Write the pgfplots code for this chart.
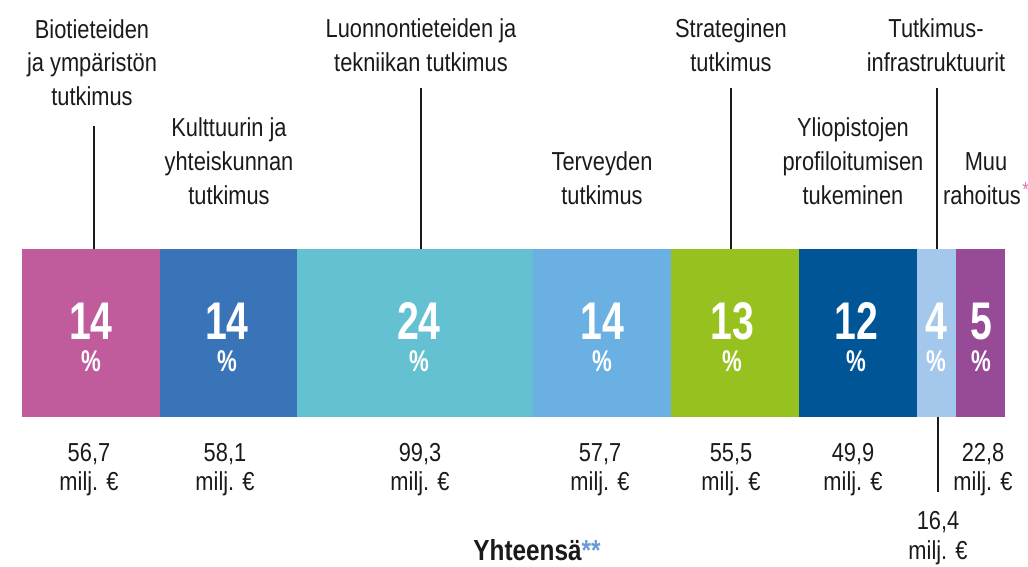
\documentclass[border=0pt]{standalone}
\usepackage{pgfplots}
\pgfplotsset{compat=1.18}
\usepackage{fontspec}
\setmainfont{Liberation Sans}[FakeStretch=0.84]
\newfontfamily\pctfont{Liberation Sans}[FakeStretch=0.74]
\definecolor{cBio}{HTML}{C05C9C}
\definecolor{cKult}{HTML}{3A74B8}
\definecolor{cLuon}{HTML}{63C1D2}
\definecolor{cTerv}{HTML}{6BB0E2}
\definecolor{cStra}{HTML}{97C11F}
\definecolor{cYlio}{HTML}{005596}
\definecolor{cInfr}{HTML}{A3C8EC}
\definecolor{cMuu}{HTML}{974B97}
\definecolor{astblue}{HTML}{6A9BD8}
\definecolor{astpink}{HTML}{E070B0}
\definecolor{txt}{HTML}{1A1A1A}
\tikzset{pn/.style={anchor=base, inner sep=0pt, text=white, font=\pctfont\bfseries\fontsize{53}{53}\selectfont},
  pp/.style={anchor=base, inner sep=0pt, text=white, font=\pctfont\bfseries\fontsize{30}{30}\selectfont},
  lab/.style={anchor=base, inner sep=0pt, text=txt, font=\fontsize{26}{26}\selectfont}}
\begin{document}
\begin{tikzpicture}[x=1pt,y=1pt]
\path[use as bounding box] (0,0) rectangle (1028,567);
\begin{axis}[at={(22pt,150pt)}, anchor=south west, scale only axis,
  width=983pt, height=168pt, xmin=0, xmax=100, ymin=-0.5, ymax=0.5,
  enlargelimits=false, xbar stacked, bar width=168pt, axis lines=none,
  ticks=none, clip=false]
\addplot[fill=cBio, draw=none] coordinates {(14,0)};
\addplot[fill=cKult, draw=none] coordinates {(14,0)};
\addplot[fill=cLuon, draw=none] coordinates {(24,0)};
\addplot[fill=cTerv, draw=none] coordinates {(14,0)};
\addplot[fill=cStra, draw=none] coordinates {(13,0)};
\addplot[fill=cYlio, draw=none] coordinates {(12,0)};
\addplot[fill=cInfr, draw=none] coordinates {(4,0)};
\addplot[fill=cMuu, draw=none] coordinates {(5,0)};
\end{axis}
% percentage labels
\foreach \x/\p in {91/14,227/14,419/24,602/14,732/13,856/12,936/4,981/5}{
  \node[pn] at (\x,227) {\p};
  \node[pp] at (\x,195) {\%};
}
% leader lines
\draw[line width=1.1pt, txt] (94,441) -- (94,318);
\draw[line width=1.1pt, txt] (421,479) -- (421,318);
\draw[line width=1.1pt, txt] (731,479) -- (731,318);
\draw[line width=1.1pt, txt] (937,479) -- (937,318);
\draw[line width=1.1pt, txt] (938,150) -- (938,75);
% category labels
\node[lab] at (92,528) {Biotieteiden};
\node[lab] at (92,495) {ja ympäristön};
\node[lab] at (92,461) {tutkimus};
\node[lab] at (229,430) {Kulttuurin ja};
\node[lab] at (229,396) {yhteiskunnan};
\node[lab] at (229,362) {tutkimus};
\node[lab] at (421,529) {Luonnontieteiden ja};
\node[lab] at (421,495) {tekniikan tutkimus};
\node[lab] at (602,396) {Terveyden};
\node[lab] at (602,362) {tutkimus};
\node[lab] at (731,529) {Strateginen};
\node[lab] at (731,495) {tutkimus};
\node[lab] at (853,430) {Yliopistojen};
\node[lab] at (853,396) {profiloitumisen};
\node[lab] at (853,362) {tukeminen};
\node[lab] at (936,529) {Tutkimus-};
\node[lab] at (936,495) {infrastruktuurit};
\node[lab] at (986,396) {Muu};
\node[lab] (rah) at (982,362) {rahoitus};
\node[anchor=base west, inner sep=0pt, text=astpink, font=\fontsize{20}{20}\selectfont, xshift=1pt] at ([yshift=8pt]rah.base east) {*};
% value labels
\foreach \x/\v in {89/{56,7},225/{58,1},420/{99,3},600/{57,7},731/{55,5},853/{49,9},983/{22,8}}{
  \node[lab] at (\x,105) {\v};
  \node[lab] at (\x,76) {milj. €};
}
\node[lab] at (938,37) {16,4};
\node[lab] at (938,7) {milj. €};
\node[anchor=base, inner sep=0pt, text=txt, font=\bfseries\fontsize{29}{29}\selectfont] at (537,6) {Yhteensä\textcolor{astblue}{**}};
\end{tikzpicture}
\end{document}
